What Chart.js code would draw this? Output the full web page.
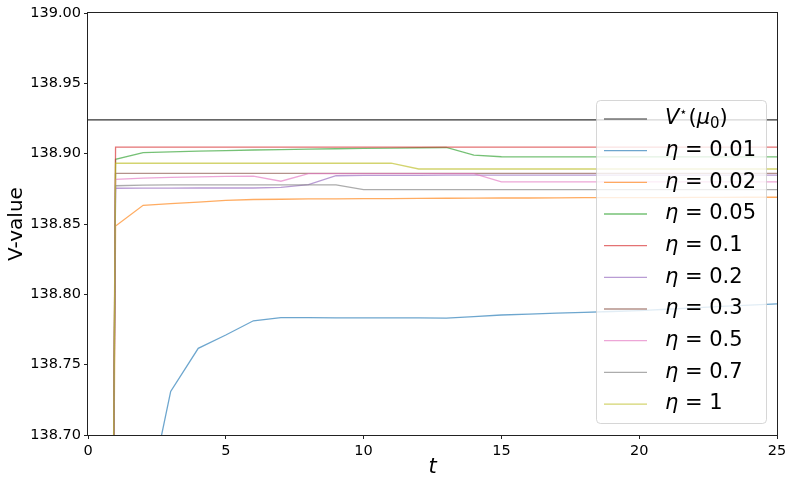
<!DOCTYPE html>
<html>
<head>
<meta charset="utf-8">
<script src="https://cdn.jsdelivr.net/npm/chart.js@4/dist/chart.umd.min.js"></script>
<style>
  html, body { margin: 0; padding: 0; background: #fff; }
  #wrap { width: 793px; height: 485px; }
</style>
</head>
<body>
<div id="wrap"><canvas id="vChart" width="793" height="485"></canvas></div>
<script>
// iterations t = 0..25
const steps = [0, 1, 2, 3, 4, 5, 6, 7, 8, 9, 10, 11, 12, 13, 14, 15, 16, 17, 18, 19, 20, 21, 22, 23, 24, 25];

// optimal value V*(mu0)
const vStar = 138.924;

// V-value per step size eta
const eta001 = [136.0, 138.40, 138.637, 138.731, 138.7616, 138.7711, 138.7812, 138.7834, 138.7834, 138.7833, 138.7832, 138.7832, 138.7832, 138.7831, 138.7842, 138.7853, 138.7860, 138.7866, 138.7872, 138.7878, 138.7884, 138.7894, 138.7904, 138.7914, 138.7923, 138.7932];
const eta002 = [136.0, 138.8486, 138.8633, 138.8645, 138.8655, 138.8668, 138.8674, 138.8676, 138.8678, 138.8679, 138.8680, 138.8681, 138.8682, 138.8683, 138.8684, 138.8685, 138.8685, 138.8686, 138.8687, 138.8687, 138.8688, 138.8688, 138.8689, 138.8689, 138.8690, 138.8690];
const eta005 = [136.0, 138.8960, 138.9007, 138.9013, 138.9018, 138.9022, 138.9026, 138.9029, 138.9032, 138.9035, 138.9037, 138.9040, 138.9042, 138.9044, 138.8990, 138.8978, 138.8977, 138.8977, 138.8977, 138.8977, 138.8977, 138.8977, 138.8977, 138.8977, 138.8977, 138.8977];
const eta01 = [136.0, 138.9047, 138.9047, 138.9047, 138.9047, 138.9047, 138.9047, 138.9047, 138.9047, 138.9047, 138.9047, 138.9047, 138.9047, 138.9047, 138.9047, 138.9047, 138.9047, 138.9047, 138.9047, 138.9047, 138.9047, 138.9047, 138.9047, 138.9047, 138.9047, 138.9047];
const eta02 = [136.0, 138.8754, 138.8755, 138.8755, 138.8756, 138.8756, 138.8756, 138.8760, 138.8780, 138.8843, 138.8845, 138.8846, 138.8846, 138.8847, 138.8847, 138.8847, 138.8847, 138.8847, 138.8848, 138.8848, 138.8848, 138.8848, 138.8848, 138.8848, 138.8848, 138.8848];
const eta03 = [136.0, 138.8860, 138.8860, 138.8860, 138.8860, 138.8860, 138.8860, 138.8860, 138.8860, 138.8860, 138.8860, 138.8860, 138.8860, 138.8860, 138.8860, 138.8860, 138.8860, 138.8860, 138.8860, 138.8860, 138.8860, 138.8860, 138.8860, 138.8860, 138.8860, 138.8860];
const eta05 = [136.0, 138.8818, 138.8826, 138.8831, 138.8835, 138.8838, 138.8841, 138.8804, 138.8858, 138.8858, 138.8858, 138.8858, 138.8858, 138.8858, 138.8858, 138.8799, 138.8799, 138.8799, 138.8799, 138.8799, 138.8799, 138.8799, 138.8799, 138.8799, 138.8799, 138.8799];
const eta07 = [136.0, 138.8772, 138.8776, 138.8778, 138.8778, 138.8778, 138.8778, 138.8778, 138.8778, 138.8778, 138.8745, 138.8745, 138.8745, 138.8745, 138.8745, 138.8745, 138.8745, 138.8745, 138.8745, 138.8745, 138.8745, 138.8745, 138.8745, 138.8745, 138.8745, 138.8745];
const eta1 = [136.0, 138.8932, 138.8932, 138.8932, 138.8932, 138.8932, 138.8932, 138.8932, 138.8932, 138.8932, 138.8932, 138.8932, 138.8891, 138.8891, 138.8891, 138.8891, 138.8891, 138.8891, 138.8891, 138.8891, 138.8891, 138.8891, 138.8891, 138.8891, 138.8891, 138.8891];

const etaNames = ['0.01', '0.02', '0.05', '0.1', '0.2', '0.3', '0.5', '0.7', '1'];
const etaSeries = [eta001, eta002, eta005, eta01, eta02, eta03, eta05, eta07, eta1];
const etaColors = ['#1f77b4', '#ff7f0e', '#2ca02c', '#d62728', '#9467bd', '#8c564b', '#e377c2', '#7f7f7f', '#bcbd22'];
const starColor = '#333333';

const xTicks = [0, 5, 10, 15, 20, 25];
const yTicks = [138.70, 138.75, 138.80, 138.85, 138.90, 138.95, 139.00];

const FONT = '"DejaVu Sans", sans-serif';

function fade(hex, a) {
  const n = parseInt(hex.slice(1), 16);
  return `rgba(${(n >> 16) & 255},${(n >> 8) & 255},${n & 255},${a})`;
}

const datasets = [{
  label: 'V*(μ0)',
  data: steps.map(t => ({ x: t, y: vStar })),
  borderColor: starColor,
  borderWidth: 1.1,
  order: 20
}];
etaSeries.forEach((vals, i) => {
  datasets.push({
    label: 'η = ' + etaNames[i],
    data: steps.map((t, k) => ({ x: t, y: vals[k] })),
    borderColor: fade(etaColors[i], 0.65),
    borderWidth: 1.3,
    order: 10 - i
  });
});

// legend box drawn inside the plot, matplotlib style
const innerLegend = {
  id: 'innerLegend',
  afterDraw(chart) {
    const c = chart.ctx;
    const area = chart.chartArea;
    c.save();
    // plot frame
    c.strokeStyle = '#222';
    c.lineWidth = 1;
    c.strokeRect(Math.round(area.left) - 0.5, Math.round(area.top) - 0.5,
      Math.round(area.right - area.left) + 1, Math.round(area.bottom - area.top) + 1);

    const boxL = 596, boxT = 100, boxW = 170, boxH = 323;
    c.beginPath();
    c.roundRect(boxL + 0.5, boxT + 0.5, boxW, boxH, 4);
    c.fillStyle = 'rgba(255,255,255,0.8)';
    c.fill();
    c.strokeStyle = 'rgba(204,204,204,0.8)';
    c.stroke();

    const fs = 21;
    const rowH = 31.67;
    const handleColors = [starColor].concat(etaColors.map(h => fade(h, 0.65)));
    c.textBaseline = 'middle';
    c.textAlign = 'left';
    for (let i = 0; i < handleColors.length; i++) {
      const y = 119 + i * rowH;
      c.beginPath();
      c.strokeStyle = handleColors[i];
      c.lineWidth = i === 0 ? 1.1 : 1.3;
      c.moveTo(604, y);
      c.lineTo(647, y);
      c.stroke();

      let x = 665;
      c.fillStyle = '#000';
      if (i === 0) {
        c.font = `italic ${fs}px ${FONT}`;
        c.fillText('V', x, y);
        x += c.measureText('V').width;
        c.font = `${Math.round(fs * 0.6)}px ${FONT}`;
        c.fillText('⋆', x, y - fs * 0.32);
        x += c.measureText('⋆').width + 1;
        c.font = `${fs}px ${FONT}`;
        c.fillText('(', x, y);
        x += c.measureText('(').width;
        c.font = `italic ${fs}px ${FONT}`;
        c.fillText('μ', x, y);
        x += c.measureText('μ').width;
        c.font = `${Math.round(fs * 0.7)}px ${FONT}`;
        c.fillText('0', x, y + fs * 0.22);
        x += c.measureText('0').width;
        c.font = `${fs}px ${FONT}`;
        c.fillText(')', x, y);
      } else {
        c.font = `italic ${fs}px ${FONT}`;
        c.fillText('η', x, y);
        x += c.measureText('η').width;
        c.font = `${fs}px ${FONT}`;
        c.fillText(' = ' + etaNames[i - 1], x, y);
      }
    }
    c.restore();
  }
};

const ctx = document.getElementById('vChart').getContext('2d');
const vChart = new Chart(ctx, {
  type: 'line',
  data: { datasets },
  options: {
    responsive: false,
    animation: false,
    layout: { padding: { left: 0, top: 13, right: 16, bottom: 0 } },
    elements: {
      point: { radius: 0 },
      line: { tension: 0 }
    },
    plugins: {
      legend: { display: false },
      tooltip: { enabled: false }
    },
    scales: {
      x: {
        type: 'linear',
        min: 0,
        max: 25,
        afterBuildTicks: s => { s.ticks = xTicks.map(v => ({ value: v })); },
        afterFit: s => { s.height = 50; },
        grid: { display: true, drawOnChartArea: false, drawTicks: true, tickLength: 4, color: '#222' },
        border: { display: false },
        ticks: { color: '#000', font: { family: FONT, size: 14.5 }, padding: 4, maxRotation: 0 },
        title: { display: true, text: 't', color: '#000', font: { family: FONT, size: 21, style: 'italic' }, padding: { top: 0, bottom: 5 } }
      },
      y: {
        type: 'linear',
        min: 138.7,
        max: 139.0,
        afterBuildTicks: s => { s.ticks = yTicks.map(v => ({ value: v })); },
        afterFit: s => { s.width = 88; },
        grid: { display: true, drawOnChartArea: false, drawTicks: true, tickLength: 4, color: '#222' },
        border: { display: false },
        ticks: { color: '#000', font: { family: FONT, size: 14.5 }, padding: 3, callback: v => v.toFixed(2) },
        title: { display: true, text: 'V-value', color: '#000', font: { family: FONT, size: 20 }, padding: { top: 5, bottom: 0 } }
      }
    }
  },
  plugins: [innerLegend]
});
</script>
</body>
</html>
